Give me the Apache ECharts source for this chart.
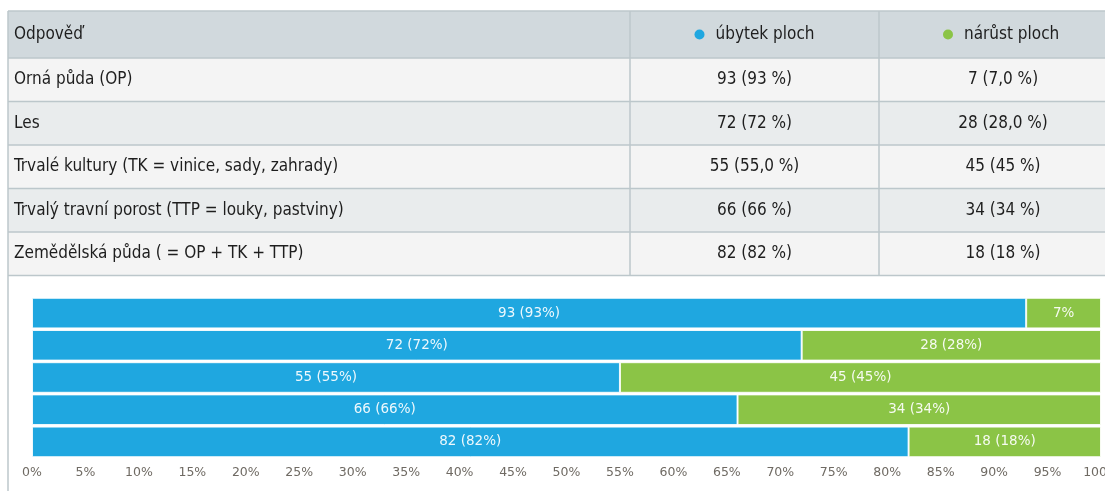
<!DOCTYPE html>
<html>
<head>
<meta charset="utf-8">
<script src="https://cdn.jsdelivr.net/npm/echarts@6/dist/echarts.min.js"></script>
<style>
html,body{margin:0;padding:0;background:#fff;}
#main{width:1105px;height:491px;}
</style>
</head>
<body>
<div id="main"></div>
<script>
const headerLabel = 'Odpověď';
const categories = [
  'Orná půda (OP)',
  'Les',
  'Trvalé kultury (TK = vinice, sady, zahrady)',
  'Trvalý travní porost (TTP = louky, pastviny)',
  'Zemědělská půda ( = OP + TK + TTP)'
];
const seriesNames = ['úbytek ploch', 'nárůst ploch'];
const lossValues = [93, 72, 55, 66, 82];
const gainValues = [7, 28, 45, 34, 18];
const lossTableText = ['93 (93 %)', '72 (72 %)', '55 (55,0 %)', '66 (66 %)', '82 (82 %)'];
const gainTableText = ['7 (7,0 %)', '28 (28,0 %)', '45 (45 %)', '34 (34 %)', '18 (18 %)'];
const colors = ['#1fa7e0', '#8bc446'];

const tableFont = '"Liberation Sans Narrow","DejaVu Sans Condensed",sans-serif';
const colX = [8, 630, 879, 1127];
const rowY = [11, 58, 101.5, 145, 188.5, 232, 275.5];
const rowFill = ['#f4f4f4', '#e9eced'];
const gridColor = '#bcc7cb';

const graphics = [];
graphics.push({type:'rect', shape:{x:colX[0], y:rowY[0], width:colX[3]-colX[0], height:rowY[1]-rowY[0]}, style:{fill:'#d1d9dd'}, z:1});
categories.forEach((c, i) => {
  graphics.push({type:'rect', shape:{x:colX[0], y:rowY[i+1], width:colX[3]-colX[0], height:rowY[i+2]-rowY[i+1]}, style:{fill:rowFill[i%2]}, z:1});
});
rowY.forEach(y => {
  graphics.push({type:'line', shape:{x1:colX[0], y1:y, x2:colX[3], y2:y}, style:{stroke:gridColor, lineWidth:1.5}, z:2});
});
graphics.push({type:'line', shape:{x1:colX[0], y1:rowY[0], x2:colX[0], y2:491}, style:{stroke:gridColor, lineWidth:1.5}, z:2});
[colX[1], colX[2]].forEach(x => {
  graphics.push({type:'line', shape:{x1:x, y1:rowY[0], x2:x, y2:rowY[rowY.length-1]}, style:{stroke:gridColor, lineWidth:1.5}, z:2});
});
const txt = (x, y, s, align) => ({type:'text', x:x, y:y, style:{text:s, fill:'#1e1e1e', font:'17px ' + tableFont, textAlign:align, textVerticalAlign:'middle'}, z:3});
graphics.push(txt(14, (rowY[0]+rowY[1])/2, headerLabel, 'left'));
[1, 2].forEach((k, si) => {
  const cx = (colX[k] + colX[k+1]) / 2;
  const cy = (rowY[0]+rowY[1])/2;
  graphics.push({type:'circle', shape:{cx:cx-55, cy:cy, r:5}, style:{fill:colors[si]}, z:3});
  graphics.push(txt(cx-39, cy, seriesNames[si], 'left'));
});
categories.forEach((c, i) => {
  const cy = (rowY[i+1]+rowY[i+2])/2;
  graphics.push(txt(14, cy, c, 'left'));
  graphics.push(txt((colX[1]+colX[2])/2, cy, lossTableText[i], 'center'));
  graphics.push(txt((colX[2]+colX[3])/2, cy, gainTableText[i], 'center'));
});

const labelFmt = p => p.value < 10 ? p.value + '%' : p.value + ' (' + p.value + '%)';
const mkSeries = (name, data, color) => ({
  name: name, type: 'bar', stack: 'total', data: data,
  barCategoryGap: '5%',
  itemStyle: {color: color, borderColor: 'rgba(255,255,255,0.85)', borderWidth: 1},
  label: {show: true, position: 'inside', color: 'rgba(255,255,255,0.92)', fontSize: 13.5, fontFamily: '"DejaVu Sans",sans-serif', formatter: labelFmt},
  emphasis: {disabled: true}
});

const chart = echarts.init(document.getElementById('main'), null, {renderer:'canvas'});
chart.setOption({
  animation: false,
  backgroundColor: '#ffffff',
  grid: {left: 32, right: 4, top: 297, bottom: 33, containLabel: false, outerBoundsMode: 'none'},
  xAxis: {
    type: 'value', min: 0, max: 100, interval: 5,
    axisLabel: {formatter: '{value}%', color: '#6f6a63', fontSize: 12.5, fontFamily: '"DejaVu Sans",sans-serif', margin: 8},
    axisLine: {show: false}, axisTick: {show: false}, splitLine: {show: false}
  },
  yAxis: {
    type: 'category', data: categories, inverse: true,
    axisLabel: {show: false}, axisLine: {show: false}, axisTick: {show: false}
  },
  series: [mkSeries(seriesNames[0], lossValues, colors[0]), mkSeries(seriesNames[1], gainValues, colors[1])],
  graphic: graphics
});
</script>
</body>
</html>
